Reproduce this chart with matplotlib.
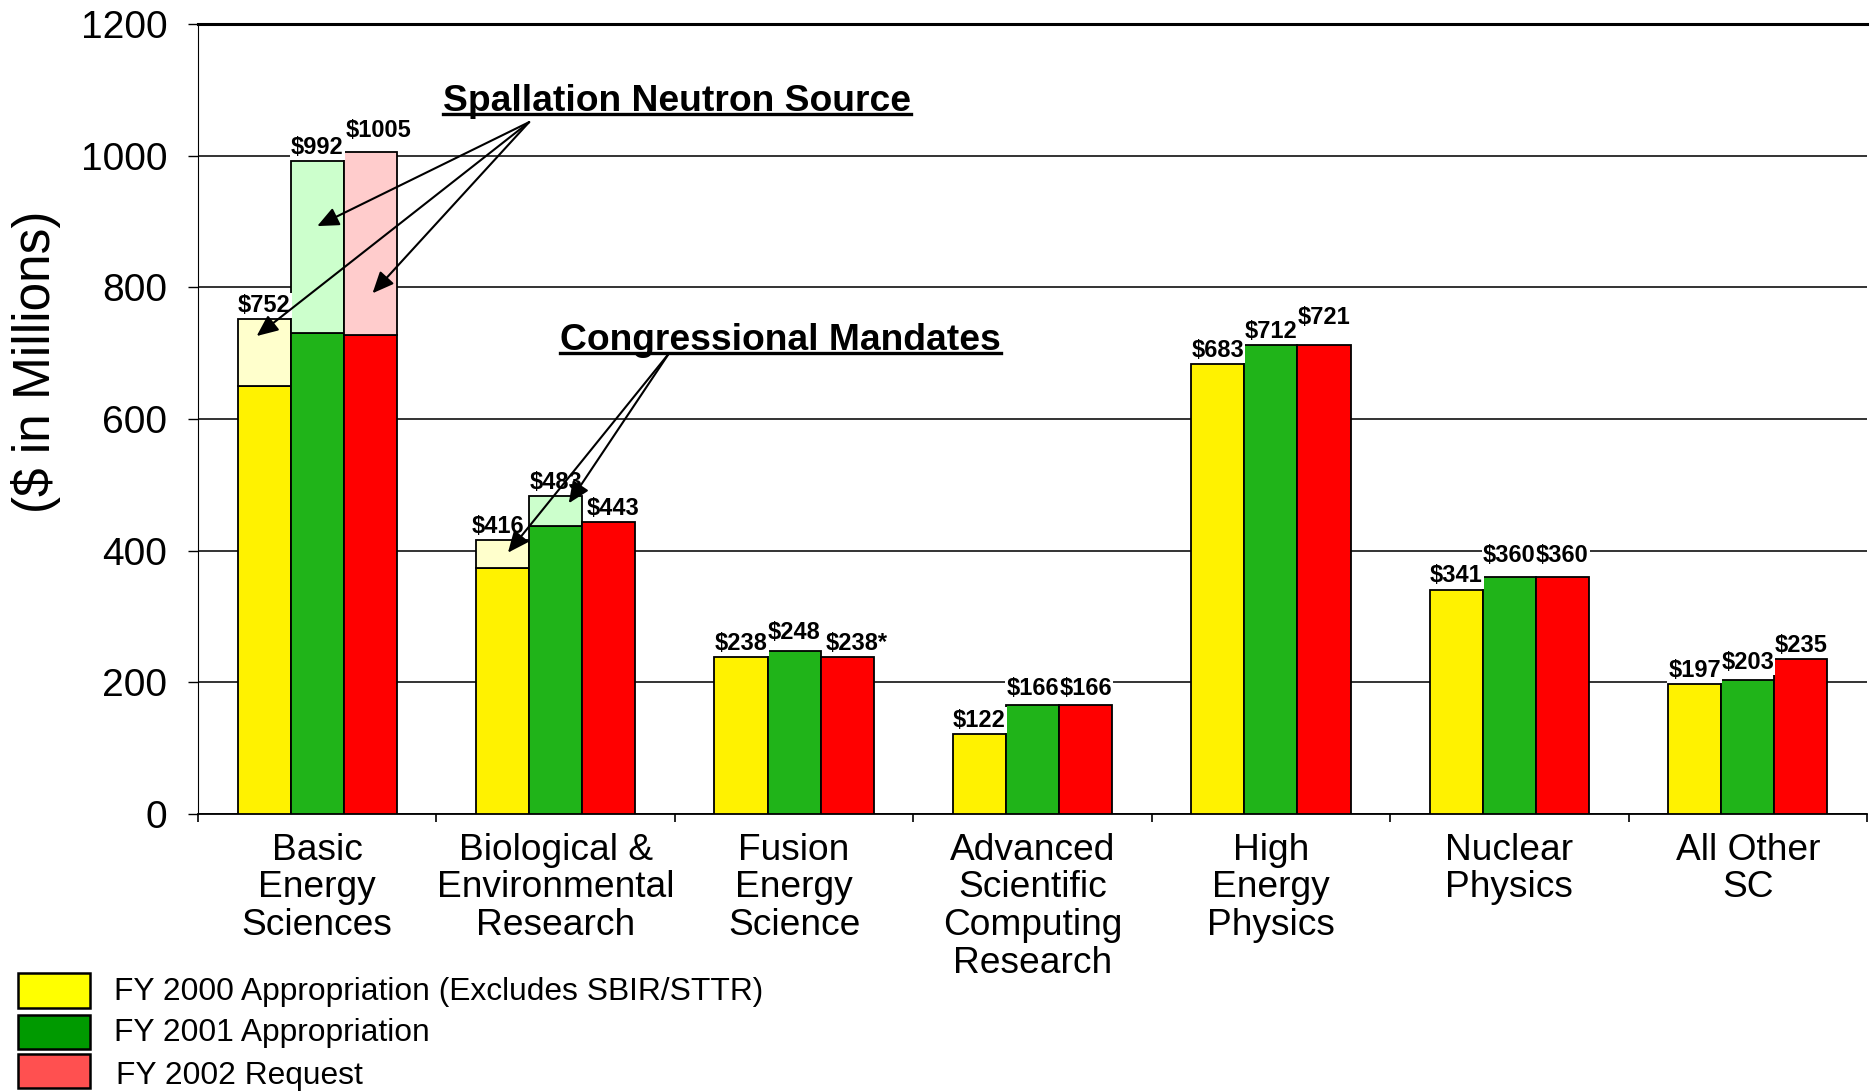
import matplotlib
matplotlib.use('Agg')
import matplotlib.pyplot as plt
from matplotlib.lines import Line2D
from matplotlib.patches import Rectangle
from matplotlib.transforms import IdentityTransform
import numpy as np

plt.rcParams['font.family'] = ['Liberation Sans', 'DejaVu Sans']

# ---------------- data ----------------
categories = ["Basic\nEnergy\nSciences", "Biological &\nEnvironmental\nResearch",
              "Fusion\nEnergy\nScience", "Advanced\nScientific\nComputing\nResearch",
              "High\nEnergy\nPhysics", "Nuclear\nPhysics", "All Other\nSC"]

fy2000_base = [650, 374, 238, 122, 683, 341, 197]
fy2000_total = [752, 416, 238, 122, 683, 341, 197]
fy2001_base = [731, 437, 248, 166, 712, 360, 203]
fy2001_total = [992, 483, 248, 166, 712, 360, 203]
fy2002_base = [727, 443, 238, 166, 712, 360, 235]
fy2002_total = [1005, 443, 238, 166, 712, 360, 235]

fy2000_labels = ["$752", "$416", "$238", "$122", "$683", "$341", "$197"]
fy2001_labels = ["$992", "$483", "$248", "$166", "$712", "$360", "$203"]
fy2002_labels = ["$1005", "$443", "$238*", "$166", "$721", "$360", "$235"]

legend_labels = ["FY 2000 Appropriation (Excludes SBIR/STTR)",
                 "FY 2001 Appropriation", "FY 2002 Request"]
yticks = [0, 200, 400, 600, 800, 1000, 1200]

# ---------------- style ----------------
solid_colors = ["#FFF200", "#20B419", "#FF0000"]
light_colors = ["#FFFFCC", "#CCFFCC", "#FFCCCC"]
legend_colors = ["#FFFF00", "#009A00", "#FF5050"]
# label nudges in points (dx, dy) for hand-placed labels
nudges = {(2, 0): (6, 6), (2, 4): (0, 10), (1, 5): (0, 6), (2, 5): (0, 6),
          (1, 2): (0, 3), (1, 6): (0, 3), (1, 3): (0, 2), (2, 3): (0, 2),
          (2, 2): (7, 0), (0, 1): (-3, 0), (2, 1): (3, 0)}

W, H = 1874, 1092
fig = plt.figure(figsize=(W / 100, H / 100), dpi=100)
ax = fig.add_axes([198 / W, 1 - 814 / H, (1867 - 198) / W, (814 - 24) / H])

x = np.arange(len(categories))
bw = 0.2225
offsets = [-bw, 0, bw]
bases = [fy2000_base, fy2001_base, fy2002_base]
totals = [fy2000_total, fy2001_total, fy2002_total]
labels = [fy2000_labels, fy2001_labels, fy2002_labels]

for s in range(3):
    b = np.array(bases[s])
    t = np.array(totals[s])
    ax.bar(x + offsets[s], b, bw, color=solid_colors[s], edgecolor='black',
           linewidth=1.3, zorder=3)
    m = t > b
    ax.bar((x + offsets[s])[m], (t - b)[m], bw, bottom=b[m], color=light_colors[s],
           edgecolor='black', linewidth=1.3, zorder=3)
    for i in range(len(x)):
        top = max(t[i], b[i])
        dx, dy = nudges.get((s, i), (0, 0))
        ax.annotate(labels[s][i], xy=(x[i] + offsets[s], top), xytext=(dx, 1.5 + dy),
                    textcoords='offset points', ha='center', va='bottom',
                    fontsize=17, fontweight='bold', zorder=4, parse_math=False,
                    bbox=dict(boxstyle='square,pad=0.05', fc='white', ec='none'))

ax.set_xlim(-0.5, len(categories) - 0.5)
ax.set_ylim(0, 1200)
ax.set_yticks(yticks)
ax.set_yticklabels([str(v) for v in yticks])
ax.set_xticks(x)
ax.set_xticklabels(categories, linespacing=1.1)
ax.set_xticks(np.arange(-0.5, len(categories)), minor=True)
ax.tick_params(axis='x', which='major', length=0, pad=13.5, labelsize=26.7)
ax.tick_params(axis='x', which='minor', length=6, width=1.2, direction='out')
ax.tick_params(axis='y', which='major', length=7, width=1.0, direction='out',
               pad=15, labelsize=28)
ax.yaxis.grid(True, color='#111111', linewidth=1.2, zorder=0)
ax.set_axisbelow(True)
ax.spines['right'].set_visible(False)
ax.spines['top'].set_linewidth(2.2)
ax.spines['left'].set_linewidth(0.8)
ax.spines['bottom'].set_linewidth(1.3)

fig.text(36 / W, 1 - 362 / H, "($ in Millions)", rotation=90, ha='center',
         va='center', fontsize=37, parse_math=False)

# annotations
t1 = ax.text(1.511, 1083, "Spallation Neutron Source", fontsize=26.8,
             fontweight='bold', ha='center', va='center')
t2 = ax.text(1.942, 719, "Congressional Mandates", fontsize=26.8,
             fontweight='bold', ha='center', va='center')

arrow = dict(arrowstyle='-|>,head_length=0.5,head_width=0.22', color='black',
             lw=1.5, shrinkA=0, shrinkB=0, mutation_scale=26)
for tip in [(0.0, 893), (-0.254, 726), (0.232, 791)]:
    ax.annotate('', xy=tip, xytext=(0.889, 1051), arrowprops=arrow, zorder=5)
for tip in [(0.80, 397), (1.055, 472)]:
    ax.annotate('', xy=tip, xytext=(1.476, 700), arrowprops=arrow, zorder=5)

# legend (manual)
rows = [(973, 1008, 992, 114), (1015, 1049, 1033, 114), (1054, 1088, 1076, 116)]
for (y0, y1, yc, tx), c, lab in zip(rows, legend_colors, legend_labels):
    fig.add_artist(Rectangle((18 / W, 1 - y1 / H), 72 / W, (y1 - y0) / H,
                             facecolor=c, edgecolor='black', linewidth=1.8,
                             transform=fig.transFigure))
    fig.text(tx / W, 1 - yc / H, lab, fontsize=22.9, ha='left', va='center')

# underline annotation titles
fig.canvas.draw()
r = fig.canvas.get_renderer()
for t in (t1, t2):
    bb = t.get_window_extent(r)
    yy = bb.y0 + 5
    fig.add_artist(Line2D([bb.x0, bb.x1], [yy, yy], color='black', lw=2.4,
                          transform=IdentityTransform()))

fig.savefig("out.png", dpi=100)
